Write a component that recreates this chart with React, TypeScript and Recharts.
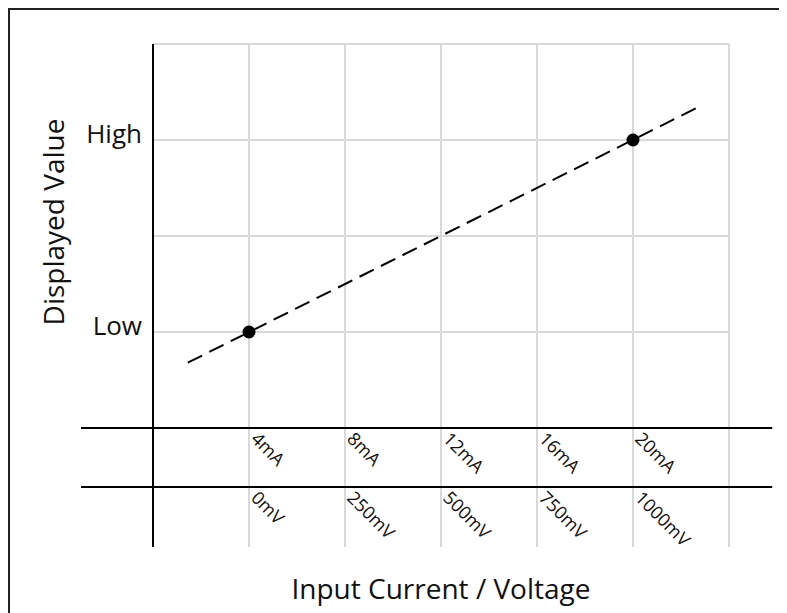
import React from "react";
import {
  ComposedChart,
  Line,
  Scatter,
  XAxis,
  YAxis,
  CartesianGrid,
  ReferenceLine,
} from "recharts";

const FONT = "'Open Sans', 'Noto Sans', sans-serif";

// x is the input current in mA, y is the displayed value in grid rows
const tickPositions = [4, 8, 12, 16, 20];
const currentTicks = ["4mA", "8mA", "12mA", "16mA", "20mA"];
const voltageTicks = ["0mV", "250mV", "500mV", "750mV", "1000mV"];
const gridX = [4, 8, 12, 16, 20, 24];
const gridY = [1, 2, 3, 4];
const valuePositions = [1, 3];
const valueLabels = ["Low", "High"];
// the two rows of the axis table (current row, voltage row)
const axisRows = [0, -0.615];
const calibration = [
  { x: 4, y: 1 },
  { x: 20, y: 3 },
];
const trend = [
  { x: 1.45, y: 0.68 },
  { x: 22.7, y: 3.34 },
];

const currentRow = tickPositions.map((x, i) => ({ x, y: axisRows[0], label: currentTicks[i] }));
const voltageRow = tickPositions.map((x, i) => ({ x, y: axisRows[1], label: voltageTicks[i] }));

function TickText(props: any) {
  const { cx, cy, payload } = props;
  const x = cx + 1;
  const y = cy + 12;
  return (
    <text
      x={x}
      y={y}
      transform={`rotate(45 ${x} ${y})`}
      fontFamily={FONT}
      fontSize={18}
      fill="#111"
    >
      {payload.label}
    </text>
  );
}

function ValueTick(props: any) {
  const { x, y, payload } = props;
  const label = valueLabels[valuePositions.indexOf(payload.value)];
  return (
    <text x={x} y={y} dy={3} textAnchor="end" fontFamily={FONT} fontSize={26} fill="#111">
      {label}
    </text>
  );
}

function YTitle(props: any) {
  const { viewBox } = props;
  const x = viewBox.x + 54;
  const y = viewBox.y + 178;
  return (
    <text
      x={x}
      y={y}
      transform={`rotate(-90 ${x} ${y})`}
      textAnchor="middle"
      fontFamily={FONT}
      fontSize={28}
      fill="#111"
    >
      Displayed Value
    </text>
  );
}

export default function App() {
  return (
    <div
      style={{
        width: 779,
        height: 605,
        borderTop: "2px solid #222",
        borderLeft: "2px solid #222",
        boxSizing: "border-box",
        overflow: "hidden",
      }}
    >
      <ComposedChart
        width={777}
        height={603}
        margin={{ top: 34, right: 58, bottom: 0, left: 0 }}
      >
        <CartesianGrid
          horizontalValues={gridY}
          vertical={false}
          stroke="#d9d9d9"
          strokeWidth={2}
        />
        {gridX.map((x) => (
          <ReferenceLine key={`g${x}`} x={x} stroke="#d9d9d9" strokeWidth={2} />
        ))}
        <XAxis
          dataKey="x"
          type="number"
          domain={[0, 24]}
          allowDataOverflow
          ticks={gridX}
          axisLine={false}
          tick={false}
          tickLine={false}
          height={66}
          label={{
            value: "Input Current / Voltage",
            position: "insideBottom",
            offset: 14,
            fontFamily: FONT,
            fontSize: 28,
            fill: "#111",
          }}
        />
        <YAxis
          dataKey="y"
          type="number"
          domain={[-1.24, 4]}
          allowDataOverflow
          ticks={valuePositions}
          width={143}
          tickSize={0}
          tickMargin={11}
          tickLine={false}
          axisLine={{ stroke: "#000", strokeWidth: 2 }}
          tick={<ValueTick />}
          label={<YTitle />}
        />
        {axisRows.map((y) => (
          <ReferenceLine
            key={y}
            segment={[
              { x: -3, y },
              { x: 25.8, y },
            ]}
            stroke="#000"
            strokeWidth={2}
            ifOverflow="visible"
          />
        ))}
        <Line
          data={trend}
          dataKey="y"
          stroke="#000"
          strokeWidth={2}
          strokeDasharray="16 8"
          dot={false}
          isAnimationActive={false}
        />
        <Scatter
          data={calibration}
          dataKey="y"
          fill="#000"
          shape={(p: any) => <circle cx={p.cx} cy={p.cy} r={6.5} fill="#000" />}
          isAnimationActive={false}
        />
        <Scatter
          data={currentRow}
          dataKey="y"
          shape={(p: any) => <TickText {...p} />}
          isAnimationActive={false}
        />
        <Scatter
          data={voltageRow}
          dataKey="y"
          shape={(p: any) => <TickText {...p} />}
          isAnimationActive={false}
        />
      </ComposedChart>
    </div>
  );
}
